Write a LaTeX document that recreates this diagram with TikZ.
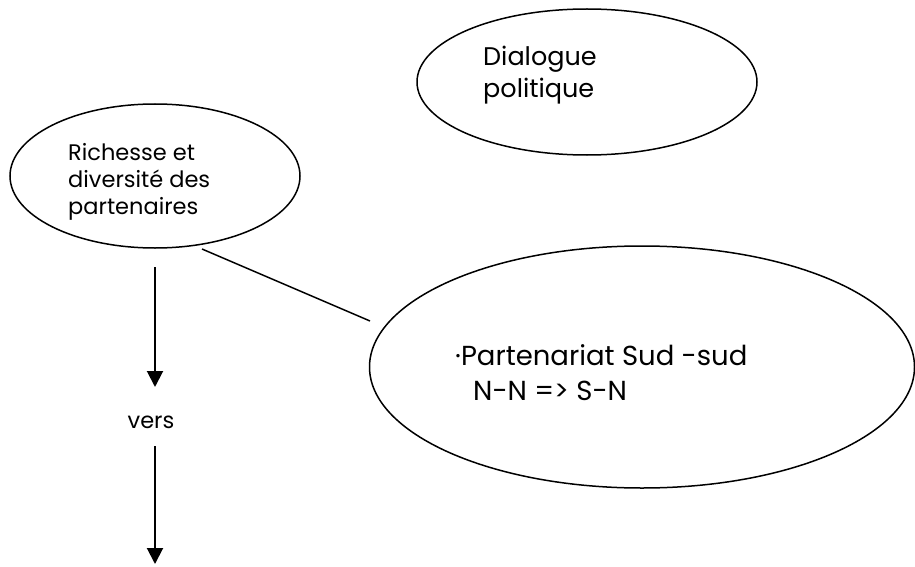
\documentclass[tikz,border=0pt]{standalone}
\usepackage{fontspec}
\setmainfont{Poppins}
\usetikzlibrary{shapes.geometric,arrows.meta}
\begin{document}
\begin{tikzpicture}[x=1pt,y=-1pt,
  bubble/.style={draw,line width=1.5pt,ellipse,inner sep=0pt},
  txt/.style={align=left,anchor=base west,inner sep=0pt},
  conn/.style={line width=1.5pt},
  arr/.style={line width=2pt,-{Triangle[length=16pt,width=16pt]}}]
\useasboundingbox (0,0) rectangle (915,567);
\node[bubble,minimum width=340pt,minimum height=146pt] (dia) at (587,82) {};
\node[bubble,minimum width=290pt,minimum height=144pt] (ric) at (155,176) {};
\node[bubble,minimum width=545pt,minimum height=242pt] (par) at (642,367) {};
\node[txt,font=\fontsize{25.5}{32}\selectfont] (tdia1) at (483,66) {Dialogue};
\node[txt,font=\fontsize{25.5}{32}\selectfont] (tdia2) at (483,98) {politique};
\node[txt,font=\fontsize{22.5}{27}\selectfont] (tric1) at (68,160) {Richesse et};
\node[txt,font=\fontsize{22.5}{27}\selectfont] (tric2) at (68,187) {diversité des};
\node[txt,font=\fontsize{22.5}{27}\selectfont] (tric3) at (68,214) {partenaires};
\node[txt,font=\fontsize{27.5}{36}\selectfont] (tpar1) at (455,365) {·Partenariat Sud -sud};
\node[txt,font=\fontsize{27.5}{36}\selectfont] (tpar2) at (473,400) {N-N => S-N};
\node[font=\fontsize{22.5}{27}\selectfont,inner sep=0pt] (vers) at (151,422) {vers};
\coordinate (l1) at (202,249);
\coordinate (l2) at (370,321);
\draw[conn] (l1) -- (l2);
\coordinate (a1s) at (155,267);
\coordinate (a1e) at (155,387);
\coordinate (a2s) at (155,446);
\coordinate (a2e) at (155,564);
\draw[arr] (a1s) -- (a1e);
\draw[arr] (a2s) -- (a2e);
\end{tikzpicture}
\end{document}
